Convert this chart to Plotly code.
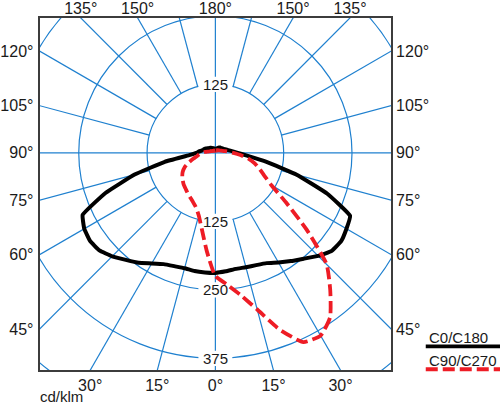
import math
import plotly.graph_objects as go

# luminous intensity in cd/klm, gamma = angle from nadir (0) to zenith (180)
gamma = list(range(0, 181, 5))
c0 = [219, 217, 215, 216, 218, 222, 231, 241, 252, 266, 278, 281, 277, 272, 218, 154,
      95, 58, 41, 32, 26, 22, 19, 17, 16, 15, 14, 13, 13, 12, 11, 10, 9, 8, 7, 6, 5]
c180 = [219, 219, 219, 218, 220, 224, 233, 245, 255, 267, 277, 280, 277, 268, 214, 153,
        94, 48, 35, 30, 25, 23, 21, 19, 17, 15, 14, 13, 12, 11, 10, 9, 9, 8, 7, 6, 5]
c90 = [225, 241, 263, 296, 343, 381, 385, 366, 327, 288, 218, 158, 119, 99, 86, 75,
       62, 46, 33, 24, 18, 14, 12, 10, 9, 8, 7, 7, 6, 6, 5, 5, 5, 5, 4, 4, 4]
c270 = [225, 180, 142, 118, 105, 98, 93, 89, 85, 82, 78, 74, 69, 62, 52, 42,
        34, 30, 25, 19, 14, 11, 9, 8, 7, 6, 6, 5, 5, 5, 5, 4, 4, 4, 4, 4, 4]

rings = [125, 250, 375, 500]
ring_labels_bottom = [125, 250, 375]
ring_labels_top = [125]
spoke_step = 15
bottom_ticks = [-30, -15, 0, 15, 30]
side_ticks = [45, 60, 75, 90, 105, 120]
top_ticks = [-135, -150, 180, 150, 135]

BLUE = '#1f80cf'
RED = '#ee1c25'
DASH = '12px,5px'
FRAME = '#3c3c3c'
TEXT = '#1a1a1a'
FONT = 'Liberation Sans, Arial, sans-serif'

W, H = 500, 406
PL, PR, PT, PB = 35, 390, 15, 370      # frame in pixels
CX, CY = 212.5, 151                    # pole in pixels
SCALE = 0.552                          # px per cd/klm
x_range = [(PL - CX) / SCALE, (PR - CX) / SCALE]
y_range = [(CY - PB) / SCALE, (CY - PT) / SCALE]


def outline(left, right):
    g = gamma[::-1] + gamma[1:]
    r = left[::-1] + right[1:]
    side = [-1] * len(gamma) + [1] * (len(gamma) - 1)
    x = [s * v * math.sin(math.radians(a)) for s, v, a in zip(side, r, g)]
    y = [-v * math.cos(math.radians(a)) for v, a in zip(r, g)]
    return x, y


def deg(a):
    return f'{abs(a)}°'


fig = go.Figure()

x, y = outline(c180, c0)
fig.add_scatter(x=x, y=y, mode='lines', name='C0/C180', hoverinfo='skip',
                line=dict(color='black', width=4, shape='spline', smoothing=0.3))
x, y = outline(c270, c90)
fig.add_scatter(x=x, y=y, mode='lines', name='C90/C270', hoverinfo='skip',
                line=dict(color=RED, width=3.8, dash=DASH, shape='spline', smoothing=0.5))
# carrier for the top / right tick axes
fig.add_scatter(x=[0], y=[0], xaxis='x2', yaxis='y2', mode='markers',
                marker_opacity=0, hoverinfo='skip')

shapes = []
for r in rings:
    shapes.append(dict(type='circle', xref='x', yref='y', x0=-r, x1=r, y0=-r, y1=r,
                       line=dict(color=BLUE, width=1.2), layer='below'))
for a in range(0, 360, spoke_step):
    r0 = 0 if a % 90 == 0 else rings[0]
    s, c = math.sin(math.radians(a)), math.cos(math.radians(a))
    shapes.append(dict(type='line', xref='x', yref='y', x0=r0 * s, y0=-r0 * c,
                       x1=1000 * s, y1=-1000 * c,
                       line=dict(color=BLUE, width=1.2), layer='below'))
# white patches behind the ring values
for v in [-r for r in ring_labels_bottom] + ring_labels_top:
    shapes.append(dict(type='rect', xref='x', yref='y', x0=-31, x1=31, y0=v - 14, y1=v + 14,
                       fillcolor='white', line_width=0, layer='below'))

annotations = [dict(x=0, y=v, xref='x', yref='y', text=str(abs(v)), showarrow=False,
                    font=dict(size=15, color=TEXT))
               for v in [-r for r in ring_labels_bottom] + ring_labels_top]
annotations.append(dict(x=PL / W - 0.002, y=0, xref='paper', yref='paper',
                        text='cd/klm', showarrow=False, xanchor='left', yanchor='bottom',
                        borderpad=0, font=dict(size=15, color=TEXT)))

# legend: caption above a line sample
for name, ty, ly, col, dash in [('C0/C180', 337, 346, 'black', 'solid'),
                                ('C90/C270', 360, 369, RED, DASH)]:
    annotations.append(dict(x=426 / W, y=1 - ty / H, xref='paper', yref='paper',
                            text=name, showarrow=False, xanchor='left', yanchor='middle',
                            font=dict(size=15, color=TEXT)))
    shapes.append(dict(type='line', xref='paper', yref='paper', x0=425 / W, x1=1,
                       y0=1 - ly / H, y1=1 - ly / H,
                       line=dict(color=col, width=3.8, dash=dash)))

bottom_vals = [-y_range[0] * math.tan(math.radians(a)) for a in bottom_ticks]
side_vals = [-x_range[1] / math.tan(math.radians(a)) for a in side_ticks]
top_vals = [(1 if a > 0 else -1) * y_range[1] * math.tan(math.radians(180 - abs(a)))
            for a in top_ticks]

axis_common = dict(showgrid=False, zeroline=False, ticks='', fixedrange=True,
                   tickfont=dict(size=16, color=TEXT, family=FONT))

fig.update_layout(
    width=W, height=H, autosize=False, showlegend=False,
    margin=dict(l=0, r=0, t=0, b=0),
    paper_bgcolor='white', plot_bgcolor='white',
    font=dict(family=FONT, color=TEXT),
    xaxis=dict(domain=[PL / W, PR / W], range=x_range, tickvals=bottom_vals,
               ticktext=[deg(a) for a in bottom_ticks], showline=True, mirror=True,
               linecolor=FRAME, linewidth=2, ticklabelstandoff=0, **axis_common),
    yaxis=dict(domain=[1 - PB / H, 1 - PT / H], range=y_range, tickvals=side_vals,
               ticktext=[deg(a) for a in side_ticks], showline=True, mirror=True,
               linecolor=FRAME, linewidth=2, ticklabelstandoff=1, **axis_common),
    xaxis2=dict(overlaying='x', side='top', anchor='y2', range=x_range, tickvals=top_vals,
                ticktext=[deg(a) for a in top_ticks], **axis_common),
    yaxis2=dict(overlaying='y', side='right', anchor='x2', range=y_range, tickvals=side_vals,
                ticktext=[deg(a) for a in side_ticks], ticklabelstandoff=4, **axis_common),
    shapes=shapes,
    annotations=annotations,
)

fig.write_html('out.html', config={'displayModeBar': False},
               post_script="document.body.style.margin = '0px';")
